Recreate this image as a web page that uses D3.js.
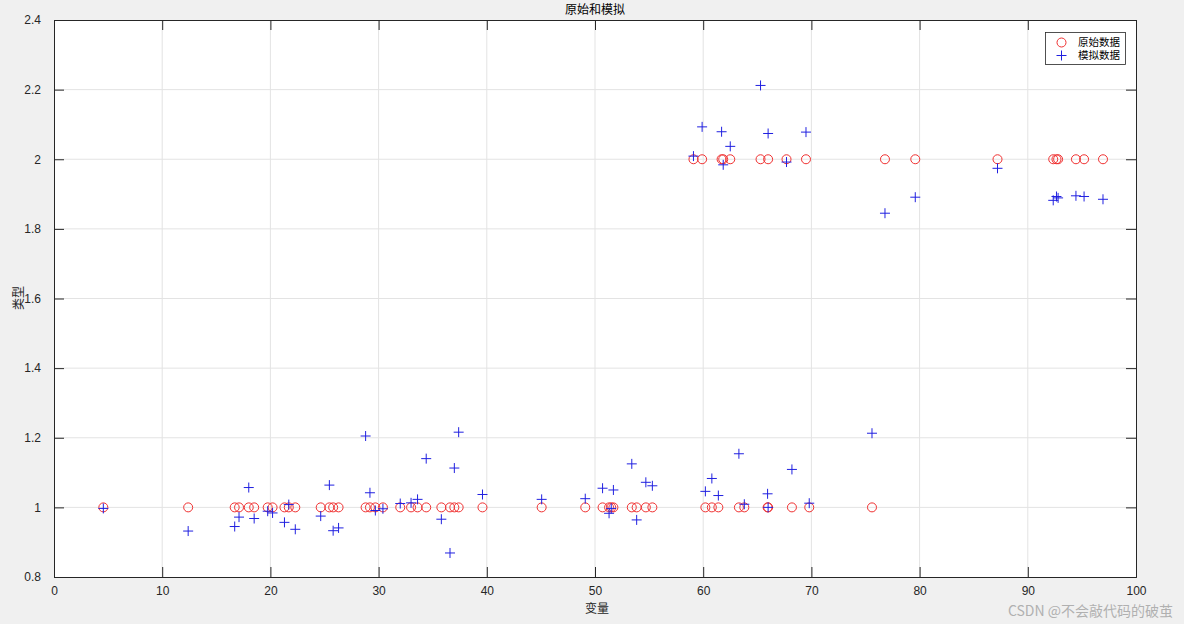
<!DOCTYPE html>
<html><head><meta charset="utf-8">
<script src="https://cdn.jsdelivr.net/npm/d3@7"></script>
<style>
html,body{margin:0;padding:0;background:#f0f0f0;}
svg{display:block;}
text{font-family:"Noto Sans CJK SC","Liberation Sans",sans-serif;}
</style></head>
<body>
<svg id="chart" width="1184" height="624"></svg>
<script>
const title = "原始和模拟";
const xLabel = "变量";
const yLabel = "类型";
const seriesNames = ["原始数据", "模拟数据"];
const xTicks = [0,10,20,30,40,50,60,70,80,90,100];
const yTicks = [0.8,1,1.2,1.4,1.6,1.8,2,2.2,2.4];

// original data: x, class
const xVals = [4.56,12.4,16.7,17.1,18.0,18.5,19.75,20.2,21.3,21.7,22.3,24.65,25.45,25.8,26.3,28.8,29.2,29.7,30.4,32.0,33.0,33.6,34.4,35.8,36.6,37.0,37.4,39.6,45.07,49.1,50.7,51.3,51.5,51.7,53.4,53.85,54.7,55.3,60.2,60.8,61.4,63.3,63.8,65.95,66.0,68.2,69.8,75.6,
  59.1,59.9,61.7,61.85,62.5,65.3,66.0,67.7,69.5,76.8,79.6,87.2,92.35,92.65,92.8,94.45,95.2,96.95];
const classVals = [1,1,1,1,1,1,1,1,1,1,1,1,1,1,1,1,1,1,1,1,1,1,1,1,1,1,1,1,1,1,1,1,1,1,1,1,1,1,1,1,1,1,1,1,1,1,1,1,
  2,2,2,2,2,2,2,2,2,2,2,2,2,2,2,2,2,2];
// simulated values at same x
const simVals = [0.997,0.932,0.945,0.972,1.057,0.968,0.989,0.984,0.957,1.008,0.937,0.975,1.064,0.933,0.941,1.205,1.042,0.991,0.996,1.011,1.013,1.023,1.140,0.966,0.869,1.113,1.216,1.037,1.023,1.025,1.055,0.983,0.997,1.050,1.125,0.964,1.072,1.062,1.046,1.083,1.034,1.154,1.009,1.039,1.0,1.109,1.012,1.213,
  2.009,2.093,2.079,1.984,2.037,2.212,2.074,1.992,2.078,1.845,1.891,1.974,1.882,1.893,1.889,1.895,1.893,1.885];

const svg = d3.select("#chart");
const L = 54, R = 1136, T = 20, B = 577;
const x = d3.scaleLinear().domain([0,100]).range([L,R]);
const y = d3.scaleLinear().domain([0.8,2.4]).range([B,T]);
const axisColor = "#262626";

svg.append("rect").attr("x",L).attr("y",T).attr("width",R-L).attr("height",B-T).attr("fill","#fff");

// grid
const g = svg.append("g");
g.selectAll(".gx").data(xTicks.slice(1,-1)).enter().append("line")
  .attr("x1",d=>x(d)).attr("x2",d=>x(d)).attr("y1",T).attr("y2",B)
  .attr("stroke","#e3e3e3").attr("stroke-width",1);
g.selectAll(".gy").data(yTicks.slice(1,-1)).enter().append("line")
  .attr("y1",d=>y(d)).attr("y2",d=>y(d)).attr("x1",L).attr("x2",R)
  .attr("stroke","#e3e3e3").attr("stroke-width",1);

// axes
const tickLen = 10;
const ax = svg.append("g").attr("transform",`translate(0,${B})`)
  .call(d3.axisBottom(x).tickValues(xTicks).tickSize(-tickLen).tickPadding(18).tickFormat(d3.format("d")));
const axTop = svg.append("g").attr("transform",`translate(0,${T})`)
  .call(d3.axisTop(x).tickValues(xTicks).tickSize(-tickLen).tickFormat(""));
const ay = svg.append("g").attr("transform",`translate(${L},0)`)
  .call(d3.axisLeft(y).tickValues(yTicks).tickSize(-tickLen).tickPadding(14).tickFormat(d=>d3.format("")(+d.toFixed(1))));
const ayR = svg.append("g").attr("transform",`translate(${R},0)`)
  .call(d3.axisRight(y).tickValues(yTicks).tickSize(-tickLen).tickFormat(""));
[ax,axTop,ay,ayR].forEach(a=>{
  a.select(".domain").attr("stroke",axisColor).attr("stroke-width",1);
  a.selectAll(".tick line").attr("stroke",axisColor);
  a.selectAll(".tick text").attr("fill",axisColor).style("font-size","12px").style("font-family","'Liberation Sans',sans-serif");
});
ax.selectAll(".tick text").attr("dy","0").attr("y",18);
ay.selectAll(".tick text").attr("dx","1px");

// labels
svg.append("text").attr("x",(L+R)/2).attr("y",14).attr("text-anchor","middle")
  .attr("fill","#000").style("font-size","12px").text(title);
svg.append("text").attr("x",597).attr("y",613).attr("text-anchor","middle")
  .attr("fill",axisColor).style("font-size","12px").text(xLabel);
svg.append("text").attr("transform","translate(23,298) rotate(-90)").attr("text-anchor","middle")
  .attr("fill",axisColor).style("font-size","12px").text(yLabel);

// data
const pts = xVals.map((v,i)=>({x:v,c:classVals[i],s:simVals[i]}));
const plot = svg.append("g");
plot.selectAll("circle.o").data(pts).enter().append("circle")
  .attr("cx",d=>x(d.x)).attr("cy",d=>y(d.c)).attr("r",4.5)
  .attr("fill","none").attr("stroke","#f03030").attr("stroke-width",1);
const ps = 5;
const plus = plot.selectAll("g.p").data(pts).enter().append("g")
  .attr("transform",d=>`translate(${x(d.x)},${y(d.s)})`);
plus.append("line").attr("x1",-ps).attr("x2",ps).attr("y1",0).attr("y2",0).attr("stroke","#2020e0").attr("stroke-width",1);
plus.append("line").attr("y1",-ps).attr("y2",ps).attr("x1",0).attr("x2",0).attr("stroke","#2020e0").attr("stroke-width",1);

// legend
const lg = svg.append("g");
lg.append("rect").attr("x",1045.5).attr("y",32.5).attr("width",80).attr("height",32)
  .attr("fill","#fff").attr("stroke","#262626").attr("stroke-width",0.8);
lg.append("circle").attr("cx",1061.5).attr("cy",42.5).attr("r",4.5).attr("fill","none").attr("stroke","#f03030");
lg.append("line").attr("x1",1056.5).attr("x2",1066.5).attr("y1",55.5).attr("y2",55.5).attr("stroke","#2020e0");
lg.append("line").attr("x1",1061.5).attr("x2",1061.5).attr("y1",50.5).attr("y2",60.5).attr("stroke","#2020e0");
lg.selectAll("text").data(seriesNames).enter().append("text")
  .attr("x",1078).attr("y",(d,i)=>46+i*13).attr("fill","#000").style("font-size","10.5px").text(d=>d);

// watermark
svg.append("text").attr("x",1173).attr("y",616).attr("text-anchor","end")
  .attr("fill","#b0b0b0").style("font-size","14px").text("CSDN @不会敲代码的破茧");
</script>
</body></html>
